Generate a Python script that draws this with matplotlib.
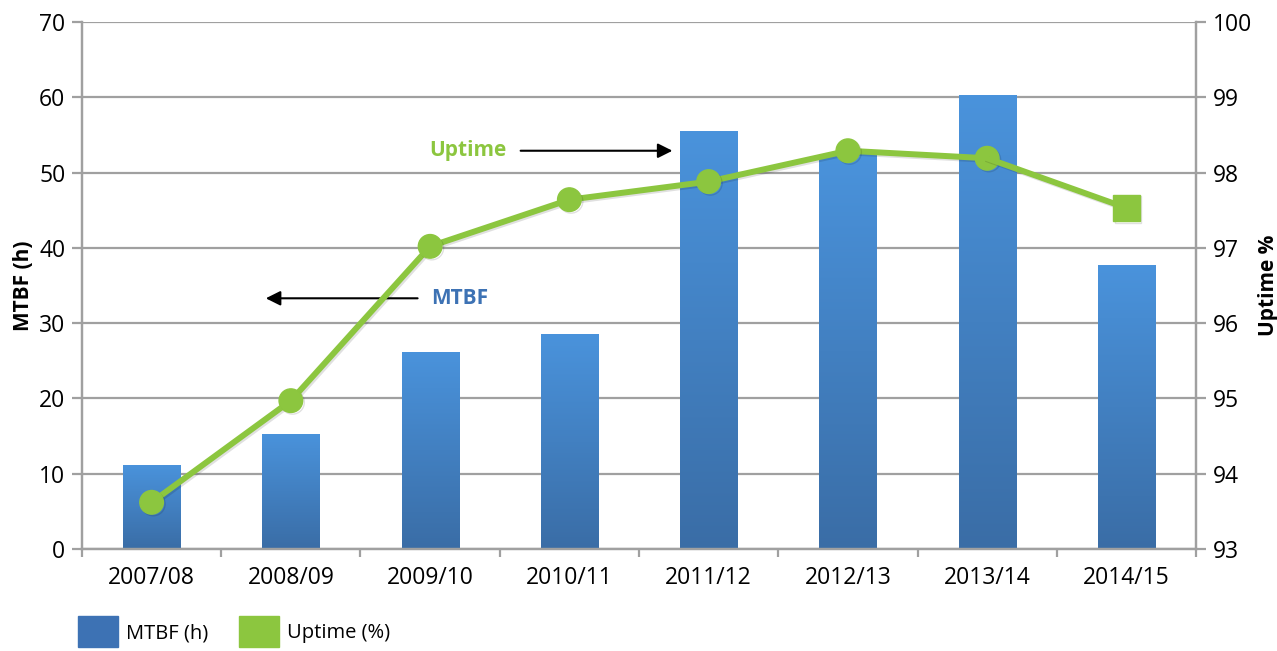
import numpy as np
import matplotlib
matplotlib.use('Agg')
import matplotlib.pyplot as plt
import matplotlib.patheffects as pe
from matplotlib.patches import Patch
from matplotlib.colors import LinearSegmentedColormap

plt.rcParams['font.family'] = ['Open Sans', 'DejaVu Sans']

years = ['2007/08', '2008/09', '2009/10', '2010/11', '2011/12', '2012/13', '2013/14', '2014/15']
mtbf = [11.2, 15.3, 26.2, 28.5, 55.5, 52.5, 60.3, 37.7]
uptime = [93.62, 94.97, 97.02, 97.64, 97.88, 98.29, 98.19, 97.53]

blue = '#3d72b4'
green = '#8cc63f'
grid_col = '#a0a0a0'

fig = plt.figure(figsize=(12.77, 6.51), dpi=100)
ax = fig.add_axes([0.0642, 0.1567, 0.8724, 0.8095])
ax2 = ax.twinx()

x = np.arange(len(years))
bars = ax.bar(x, mtbf, width=0.41, color='none', zorder=2)

# vertical gradient inside each bar: lighter on top, darker at the bottom
cmap = LinearSegmentedColormap.from_list('bar', ['#3a6da6', '#4a93dc'])
grad = np.linspace(0, 1, 256).reshape(-1, 1)
for b in bars:
    x0, w, h = b.get_x(), b.get_width(), b.get_height()
    im = ax.imshow(grad, extent=[x0, x0 + w, 0, h], origin='lower', cmap=cmap,
                   aspect='auto', zorder=2)
    im.set_clip_path(b)

ax.set_xlim(-0.5, len(years) - 0.5)
ax.set_ylim(0, 70)
ax.set_yticks(range(0, 71, 10))
ax.yaxis.grid(True, color=grid_col, lw=1.6, zorder=0)
ax.set_axisbelow(True)
ax.set_xticks(x)
ax.set_xticklabels(years, fontsize=16.5)
ax.set_xticks(np.arange(-0.5, len(years)), minor=True)
ax.tick_params(axis='x', which='major', length=0, pad=12)
ax.tick_params(axis='x', which='minor', length=6, width=1.6, color=grid_col)
ax.tick_params(axis='y', labelsize=16.5, length=7, width=1.6, color=grid_col, pad=5)
ax.set_ylabel('MTBF (h)', fontsize=15, fontweight='bold', labelpad=4)

shadow = [pe.SimpleLineShadow(offset=(1.2, -1.2), alpha=0.12, shadow_color='black'), pe.Normal()]
ax2.plot(x[:-1], uptime[:-1], color=green, lw=4.3, marker='o', ms=17,
         zorder=5, path_effects=shadow, solid_capstyle='round')
ax2.plot(x[-2:], uptime[-2:], color=green, lw=4.3, zorder=5, path_effects=shadow)
ax2.plot(x[-1], uptime[-1], color=green, marker='s', ms=19, lw=0, zorder=6,
         path_effects=shadow)
ax2.set_ylim(93, 100)
ax2.set_yticks(range(93, 101))
ax2.tick_params(axis='y', labelsize=16.5, length=7, width=1.6, color=grid_col, pad=5)
ax2.set_ylabel('Uptime %', fontsize=15, fontweight='bold', labelpad=4)

for a in (ax, ax2):
    for s in ['left', 'right', 'bottom']:
        a.spines[s].set_color(grid_col)
        a.spines[s].set_linewidth(1.6)
    a.spines['top'].set_visible(False)

ax.annotate('', xy=(3.76, 52.9), xytext=(2.63, 52.9),
            arrowprops=dict(arrowstyle='-|>', color='black', lw=1.5, mutation_scale=22))
ax.text(2.27, 52.9, 'Uptime', color=green, fontsize=15, fontweight='bold',
        ha='center', va='center')
ax.annotate('', xy=(0.8, 33.3), xytext=(1.93, 33.3),
            arrowprops=dict(arrowstyle='-|>', color='black', lw=1.5, mutation_scale=22))
ax.text(2.21, 33.3, 'MTBF', color=blue, fontsize=15, fontweight='bold',
        ha='center', va='center')

handles = [Patch(color=blue, label='MTBF (h)'), Patch(color=green, label='Uptime (%)')]
fig.legend(handles=handles, loc='lower left', bbox_to_anchor=(0.047, -0.022), ncol=2,
           frameon=False, fontsize=14.5, handlelength=2.0, handleheight=2.0,
           handletextpad=0.4, columnspacing=1.5)

fig.savefig('out.png', dpi=100)
